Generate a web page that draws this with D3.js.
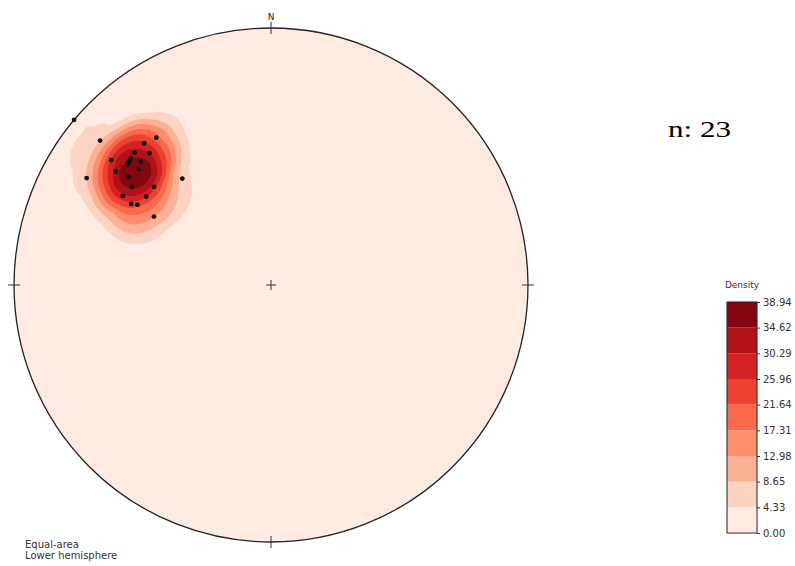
<!DOCTYPE html>
<html>
<head>
<meta charset="utf-8">
<script src="https://cdn.jsdelivr.net/npm/d3@7"></script>
<style>
  body { margin: 0; background: #fff; }
  svg { display: block; }
</style>
</head>
<body>
<svg id="chart" width="795" height="566"></svg>
<script>
// Poles to planes: trend and plunge, degrees
const trends  = [310.2, 322.1, 318.2, 314.1, 317.3, 308.0, 312.1, 311.0, 310.1, 313.4, 306.1, 311.2,
                 300.1, 307.2, 320.2, 305.1, 310.0, 301.0, 305.3, 300.1, 301.0, 300.3, 310.0];
const plunges = [14.0, 28.2, 26.9, 27.0, 30.9, 22.2, 27.3, 27.7, 27.9, 30.9, 26.1, 32.2,
                 18.2, 31.1, 45.2, 34.3, 40.3, 33.2, 40.3, 37.2, 39.2, 46.2, 0.0];

// Contour levels shown on the colour bar
const levelLabels = ["0.00", "4.33", "8.65", "12.98", "17.31", "21.64", "25.96", "30.29", "34.62", "38.94"];
const levels = levelLabels.map(Number);

const svg = d3.select("#chart");
const cx = 271, cy = 285, R = 257;
const rad = Math.PI / 180;

// Equal-area (Schmidt) radius: r = R * sqrt(1 - sin(plunge))
const rScale = d3.scaleSqrt().domain([0, 1]).range([0, R]);

function project(trend, plunge) {
  const r = rScale(1 - Math.sin(plunge * rad));
  return [cx + r * Math.sin(trend * rad), cy - r * Math.cos(trend * rad)];
}
function toVec(trend, plunge) {
  const t = trend * rad, p = plunge * rad;
  return [Math.cos(p) * Math.cos(t), Math.cos(p) * Math.sin(t), Math.sin(p)];
}

const poles = trends.map((t, i) => ({ trend: t, plunge: plunges[i], v: toVec(t, plunges[i]) }));

// Counting with a parabolic (Epanechnikov) cap on the sphere, sampled on a pixel grid
const capAngle = 0.262;                // radians
const capA = 1 - Math.cos(capAngle);
const step = 2;
const x0 = cx - R - 6, y0 = cy - R - 6;
const n = Math.ceil((2 * R + 12) / step) + 1;
const grid = new Float64Array(n * n);
for (let j = 0; j < n; j++) {
  for (let i = 0; i < n; i++) {
    const dx = x0 + i * step - cx, dy = y0 + j * step - cy;
    const u = Math.min(2, (dx * dx + dy * dy) / (R * R)); // 1 - sin(plunge)
    const sp = 1 - u, cp = Math.sqrt(Math.max(0, 1 - sp * sp));
    const t = Math.atan2(dx, -dy);
    const g = [cp * Math.cos(t), cp * Math.sin(t), sp];
    let s = 0;
    for (const p of poles) {
      const c = Math.abs(g[0] * p.v[0] + g[1] * p.v[1] + g[2] * p.v[2]);
      s += Math.max(0, 1 - (1 - c) / capA);
    }
    grid[j * n + i] = s;
  }
}
// Express the field in the colour bar's units (peak = top level)
const peak = d3.max(grid);
for (let k = 0; k < grid.length; k++) grid[k] = grid[k] / peak * levels[levels.length - 1];

const bands = levels.length - 1;
const bandColor = i => d3.interpolateReds((i + 0.5) / bands);

svg.append("defs").append("clipPath").attr("id", "net-clip")
  .append("circle").attr("cx", cx).attr("cy", cy).attr("r", R);

const net = svg.append("g");
net.append("circle").attr("cx", cx).attr("cy", cy).attr("r", R).attr("fill", bandColor(0));

const contours = d3.contours().size([n, n]).thresholds(levels.slice(1, -1))(grid);
const path = d3.geoPath(d3.geoIdentity().scale(step).translate([x0, y0]));
net.append("g").attr("clip-path", "url(#net-clip)")
  .selectAll("path").data(contours).join("path")
  .attr("d", path)
  .attr("fill", (d, i) => bandColor(i + 1));

// Primitive circle and cardinal ticks
net.append("circle").attr("cx", cx).attr("cy", cy).attr("r", R)
  .attr("fill", "none").attr("stroke", "#222").attr("stroke-width", 1.3);
const tick = 6;
const tickLines = [
  [cx, cy - R - tick, cx, cy - R + tick],
  [cx, cy + R - tick, cx, cy + R + tick],
  [cx - R - tick, cy, cx - R + tick, cy],
  [cx + R - tick, cy, cx + R + tick, cy],
  [cx - 5, cy, cx + 5, cy],
  [cx, cy - 5, cx, cy + 5]
];
net.selectAll("line.tick").data(tickLines).join("line")
  .attr("x1", d => d[0]).attr("y1", d => d[1]).attr("x2", d => d[2]).attr("y2", d => d[3])
  .attr("stroke", "#333").attr("stroke-width", 1);
net.append("text").attr("x", cx).attr("y", cy - R - 8)
  .attr("text-anchor", "middle").attr("font-family", "DejaVu Sans").attr("font-size", 9)
  .attr("fill", "#222").text("N");

// Poles
net.append("g").selectAll("circle").data(poles).join("circle")
  .attr("cx", d => project(d.trend, d.plunge)[0])
  .attr("cy", d => project(d.trend, d.plunge)[1])
  .attr("r", 2.4).attr("fill", "#111");

// Projection notes
const note = svg.append("text").attr("font-family", "DejaVu Sans").attr("font-size", 10).attr("fill", "#333");
note.append("tspan").attr("x", 25).attr("y", 548).text("Equal-area");
note.append("tspan").attr("x", 25).attr("y", 559).text("Lower hemisphere");

// Sample count
svg.append("text").attr("x", 668).attr("y", 137)
  .attr("font-family", "Liberation Serif, Times New Roman, serif").attr("font-size", 23)
  .attr("textLength", 63).attr("lengthAdjust", "spacingAndGlyphs")
  .attr("fill", "#000").text(`n: ${poles.length}`);

// Colour bar
const cbX = 727, cbW = 30;
const cbScale = d3.scaleLinear().domain([levels[0], levels[levels.length - 1]]).range([533, 302]);
const cb = svg.append("g");
cb.selectAll("rect").data(d3.range(bands)).join("rect")
  .attr("x", cbX).attr("width", cbW)
  .attr("y", i => cbScale(levels[i + 1]))
  .attr("height", i => cbScale(levels[i]) - cbScale(levels[i + 1]))
  .attr("fill", i => bandColor(i));
cb.append("rect").attr("x", cbX).attr("y", cbScale.range()[1]).attr("width", cbW)
  .attr("height", cbScale.range()[0] - cbScale.range()[1])
  .attr("fill", "none").attr("stroke", "#222").attr("stroke-width", 1);
const axis = cb.append("g").attr("transform", `translate(${cbX + cbW},0)`)
  .call(d3.axisRight(cbScale).tickValues(levels).tickFormat((d, i) => levelLabels[i]).tickSize(3).tickPadding(3));
axis.select(".domain").remove();
axis.selectAll("text").attr("font-family", "DejaVu Sans").attr("font-size", 10).attr("fill", "#333");
axis.selectAll("line").attr("stroke", "#333");
svg.append("text").attr("x", cbX + cbW / 2).attr("y", 288).attr("text-anchor", "middle")
  .attr("font-family", "DejaVu Sans").attr("font-size", 9).attr("fill", "#333").text("Density");
</script>
</body>
</html>
